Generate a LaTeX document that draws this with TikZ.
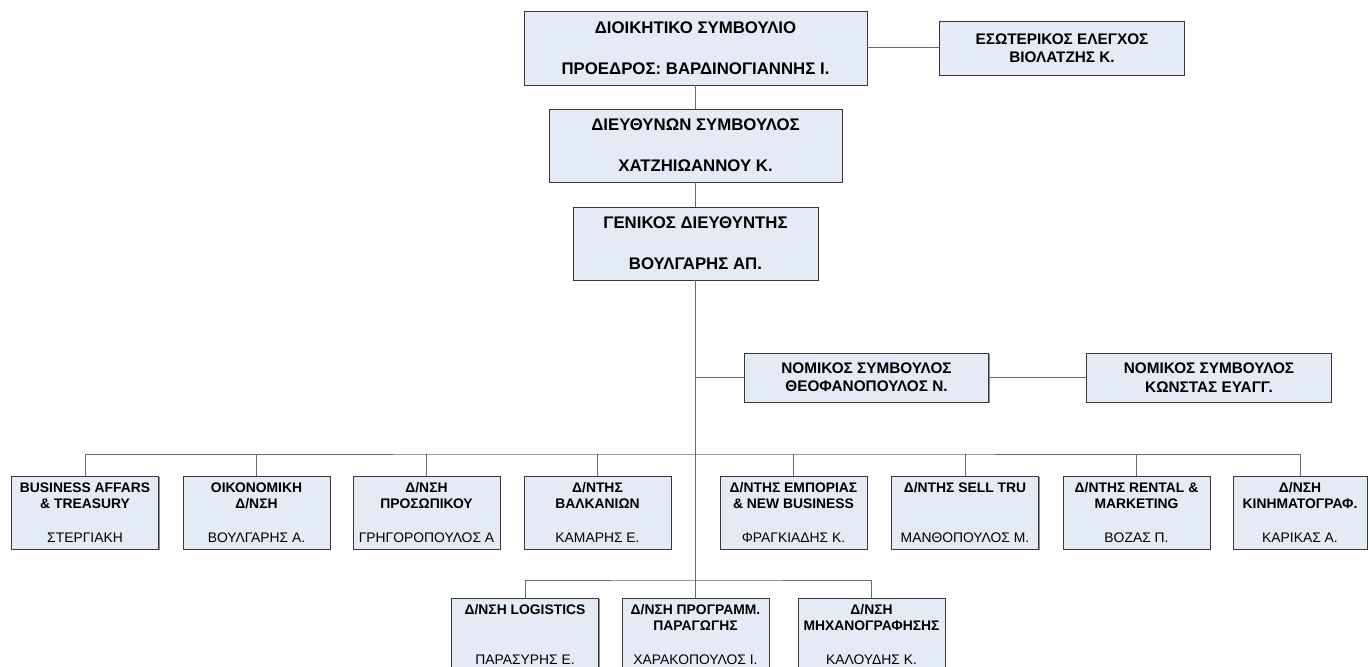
\documentclass[tikz,border=0pt]{standalone}
\usepackage{fontspec}
\setmainfont{Liberation Sans}
\usepackage{tikz}
\usetikzlibrary{shadows}
\definecolor{boxfill}{RGB}{228,234,246}
\definecolor{boxline}{RGB}{55,55,55}
\definecolor{wiregray}{RGB}{105,105,105}
\newcommand{\unitbox}[3][106pt]{\begin{minipage}[c][45pt][t]{#1}\centering
  \fontsize{10.4}{12}\selectfont\bfseries #2\par\vfill\mdseries #3\end{minipage}}

\begin{document}
\begin{tikzpicture}[x=0.75pt, y=-0.75pt,
    orgbox/.style={draw=boxline, fill=boxfill, line width=0.6pt, inner sep=0pt, align=center,
      drop shadow={shadow xshift=0.8pt, shadow yshift=-0.8pt, fill=black!45, opacity=1}},
    headbox/.style={orgbox, font=\fontsize{12.6}{15}\selectfont\bfseries, minimum height=54.75pt},
    sidebox/.style={orgbox, font=\fontsize{11.5}{13.8}\selectfont\bfseries, minimum width=183.5pt},
    unit/.style={orgbox, minimum width=110.25pt, minimum height=54.75pt},
    link/.style={draw=wiregray, line width=0.75pt}]
            \useasboundingbox (0,0) rectangle (1370,667);

            % === Board and management ===
            \node[headbox, minimum width=257.25pt, minimum height=55.5pt] (board) at (695.5,48)
                {ΔΙΟΙΚΗΤΙΚΟ ΣΥΜΒΟΥΛΙΟ\\[16pt]ΠΡΟΕΔΡΟΣ: ΒΑΡΔΙΝΟΓΙΑΝΝΗΣ Ι.};
            \node[sidebox, minimum height=40.5pt] (audit) at (1062,48)
                {ΕΣΩΤΕΡΙΚΟΣ ΕΛΕΓΧΟΣ\\ΒΙΟΛΑΤΖΗΣ Κ.};
            \node[headbox, minimum width=219.75pt] (ceo) at (695.5,145.5)
                {ΔΙΕΥΘΥΝΩΝ ΣΥΜΒΟΥΛΟΣ\\[16pt]ΧΑΤΖΗΙΩΑΝΝΟΥ Κ.};
            \node[headbox, minimum width=183.75pt] (gm) at (695.5,243.5)
                {ΓΕΝΙΚΟΣ ΔΙΕΥΘΥΝΤΗΣ\\[16pt]ΒΟΥΛΓΑΡΗΣ ΑΠ.};

            % === Legal advisors ===
            \node[sidebox, minimum height=36.75pt] (legal) at (866.5,377.5)
                {ΝΟΜΙΚΟΣ ΣΥΜΒΟΥΛΟΣ\\ΘΕΟΦΑΝΟΠΟΥΛΟΣ Ν.};
            \node[sidebox, minimum height=36.75pt] (legalb) at (1209,377.5)
                {ΝΟΜΙΚΟΣ ΣΥΜΒΟΥΛΟΣ\\ΚΩΝΣΤΑΣ ΕΥΑΓΓ.};

            % === Departments, first row ===
            \node[unit] (bat) at (85,512.5) {\unitbox{BUSINESS AFFARS\\\& TREASURY}{ΣΤΕΡΓΙΑΚΗ}};
            \node[unit] (fin) at (256.5,512.5) {\unitbox{ΟΙΚΟΝΟΜΙΚΗ\\Δ/ΝΣΗ}{ΒΟΥΛΓΑΡΗΣ Α.}};
            \node[unit] (hr) at (426.5,512.5) {\unitbox{Δ/ΝΣΗ\\ΠΡΟΣΩΠΙΚΟΥ}{ΓΡΗΓΟΡΟΠΟΥΛΟΣ Α}};
            \node[unit] (balk) at (597.5,512.5) {\unitbox{Δ/ΝΤΗΣ\\ΒΑΛΚΑΝΙΩΝ}{ΚΑΜΑΡΗΣ Ε.}};
            \node[unit] (trade) at (793.5,512.5) {\unitbox{Δ/ΝΤΗΣ ΕΜΠΟΡΙΑΣ\\\& NEW BUSINESS}{ΦΡΑΓΚΙΑΔΗΣ Κ.}};
            \node[unit] (sell) at (965,512.5) {\unitbox{Δ/ΝΤΗΣ SELL TRU}{ΜΑΝΘΟΠΟΥΛΟΣ Μ.}};
            \node[unit] (rent) at (1136.5,512.5) {\unitbox{Δ/ΝΤΗΣ RENTAL \&\\MARKETING}{ΒΟΖΑΣ Π.}};
            \node[unit, minimum width=100.5pt] (cine) at (1300,512.5) {\unitbox[96pt]{Δ/ΝΣΗ\\ΚΙΝΗΜΑΤΟΓΡΑΦ.}{ΚΑΡΙΚΑΣ Α.}};

            % === Departments, second row ===
            \node[unit] (logi) at (525,634.5) {\unitbox{Δ/ΝΣΗ LOGISTICS}{ΠΑΡΑΣΥΡΗΣ Ε.}};
            \node[unit] (prog) at (695.5,634.5) {\unitbox{Δ/ΝΣΗ ΠΡΟΓΡΑΜΜ.\\ΠΑΡΑΓΩΓΗΣ}{ΧΑΡΑΚΟΠΟΥΛΟΣ Ι.}};
            \node[unit] (mis) at (871.5,634.5) {\unitbox{Δ/ΝΣΗ\\ΜΗΧΑΝΟΓΡΑΦΗΣΗΣ}{ΚΑΛΟΥΔΗΣ Κ.}};

            % === Connectors ===
            \coordinate (busa) at (695.5,454);
            \coordinate (busb) at (695.5,580);
            \draw[link] (board.south) -- (ceo.north);
            \draw[link] (board.east) -- (audit.west);
            \draw[link] (ceo.south) -- (gm.north);
            \draw[link] (gm.south) -- (prog.north);
            \draw[link] (legal.west) -- (legal.west -| gm.south);
            \draw[link] (legal.east) -- (legalb.west);

            \draw[link] (bat.north) |- (busa) -| (cine.north);
            \draw[link] (fin.north) -- (fin.north |- busa);
            \draw[link] (hr.north) -- (hr.north |- busa);
            \draw[link] (balk.north) -- (balk.north |- busa);
            \draw[link] (trade.north) -- (trade.north |- busa);
            \draw[link] (sell.north) -- (sell.north |- busa);
            \draw[link] (rent.north) -- (rent.north |- busa);

            \draw[link] (logi.north) |- (busb) -| (mis.north);
        \end{tikzpicture}
\end{document}
